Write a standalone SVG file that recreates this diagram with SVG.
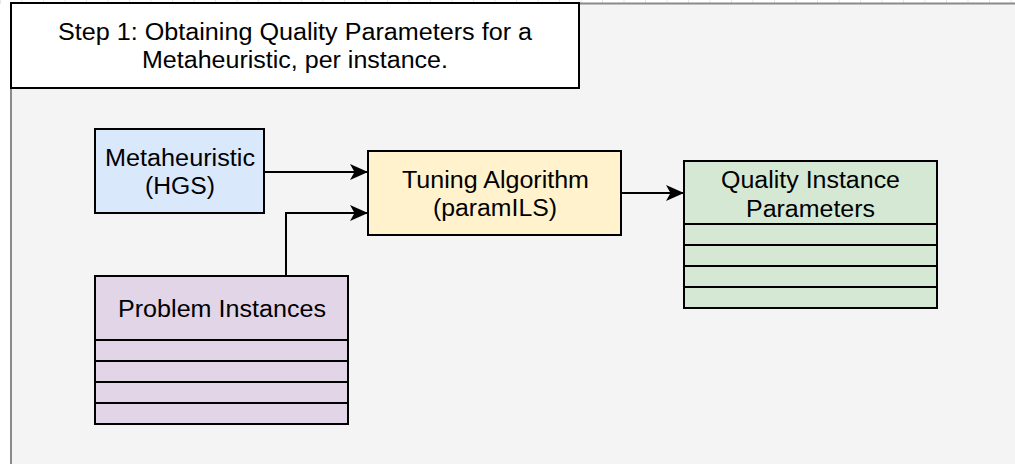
<svg xmlns="http://www.w3.org/2000/svg" width="1015" height="464" viewBox="0 0 1015 464">
  <defs>
    <style>
      .box { stroke: #000; stroke-width: 2; }
      .lbl { font-family: "Liberation Sans", Arial, sans-serif; font-size: 23px; fill: #000; text-anchor: middle; }
      .edge { fill: none; stroke: #000; stroke-width: 2; }
      .row { stroke: #000; stroke-width: 2; }
    </style>
    <marker id="arr" markerWidth="18" markerHeight="16" refX="18" refY="8" orient="auto" markerUnits="userSpaceOnUse" viewBox="0 0 18 16">
      <path d="M0,0 L18,8 L0,16 L4.5,8 Z" fill="#000"/>
    </marker>
    <pattern id="grid" width="21.5" height="4" patternUnits="userSpaceOnUse">
      <rect width="21.5" height="4" fill="#fff"/>
      <line x1="0.5" y1="0" x2="0.5" y2="4" stroke="#e6e6e6" stroke-width="1"/>
    </pattern>
  </defs>
  <rect x="0" y="0" width="1015" height="4" fill="url(#grid)"/>
  <rect id="container" x="11" y="3.5" width="1015" height="470" fill="#f4f4f4" stroke="#8a8a8a" stroke-width="2"/>

  <g id="title">
    <rect class="box" x="11" y="3" width="568" height="85" fill="#fff"/>
    <text class="lbl" x="295" y="40" textLength="474" lengthAdjust="spacingAndGlyphs">Step 1: Obtaining Quality Parameters for a</text>
    <text class="lbl" x="295" y="68" textLength="306" lengthAdjust="spacingAndGlyphs">Metaheuristic, per instance.</text>
  </g>

  <g id="connectors">
    <path class="edge" d="M264,172 L368,172" marker-end="url(#arr)"/>
    <path class="edge" d="M286,276 L286,213 L368,213" marker-end="url(#arr)"/>
    <path class="edge" d="M621,193 L684,193" marker-end="url(#arr)"/>
  </g>

  <g id="metaheuristic">
    <rect class="box" x="95" y="129" width="169" height="84" fill="#dae8fc"/>
    <text class="lbl" x="180" y="166" textLength="150" lengthAdjust="spacingAndGlyphs">Metaheuristic</text>
    <text class="lbl" x="180" y="194" textLength="70" lengthAdjust="spacingAndGlyphs">(HGS)</text>
  </g>

  <g id="tuning">
    <rect class="box" x="368" y="151" width="253" height="84" fill="#fff2cc"/>
    <text class="lbl" x="495.5" y="188" textLength="187" lengthAdjust="spacingAndGlyphs">Tuning Algorithm</text>
    <text class="lbl" x="495" y="216" textLength="124" lengthAdjust="spacingAndGlyphs">(paramILS)</text>
  </g>

  <g id="quality">
    <rect class="box" x="684" y="161" width="253" height="147" fill="#d5e8d4"/>
    <line class="row" x1="684" y1="224" x2="937" y2="224"/>
    <line class="row" x1="684" y1="245" x2="937" y2="245"/>
    <line class="row" x1="684" y1="266" x2="937" y2="266"/>
    <line class="row" x1="684" y1="287" x2="937" y2="287"/>
    <text class="lbl" x="810.5" y="188" textLength="179" lengthAdjust="spacingAndGlyphs">Quality Instance</text>
    <text class="lbl" x="810.5" y="217" textLength="129" lengthAdjust="spacingAndGlyphs">Parameters</text>
  </g>

  <g id="problems">
    <rect class="box" x="95" y="276" width="253" height="148" fill="#e1d5e7"/>
    <line class="row" x1="95" y1="340" x2="348" y2="340"/>
    <line class="row" x1="95" y1="361" x2="348" y2="361"/>
    <line class="row" x1="95" y1="382" x2="348" y2="382"/>
    <line class="row" x1="95" y1="403" x2="348" y2="403"/>
    <text class="lbl" x="222" y="317" textLength="208" lengthAdjust="spacingAndGlyphs">Problem Instances</text>
  </g>
</svg>
